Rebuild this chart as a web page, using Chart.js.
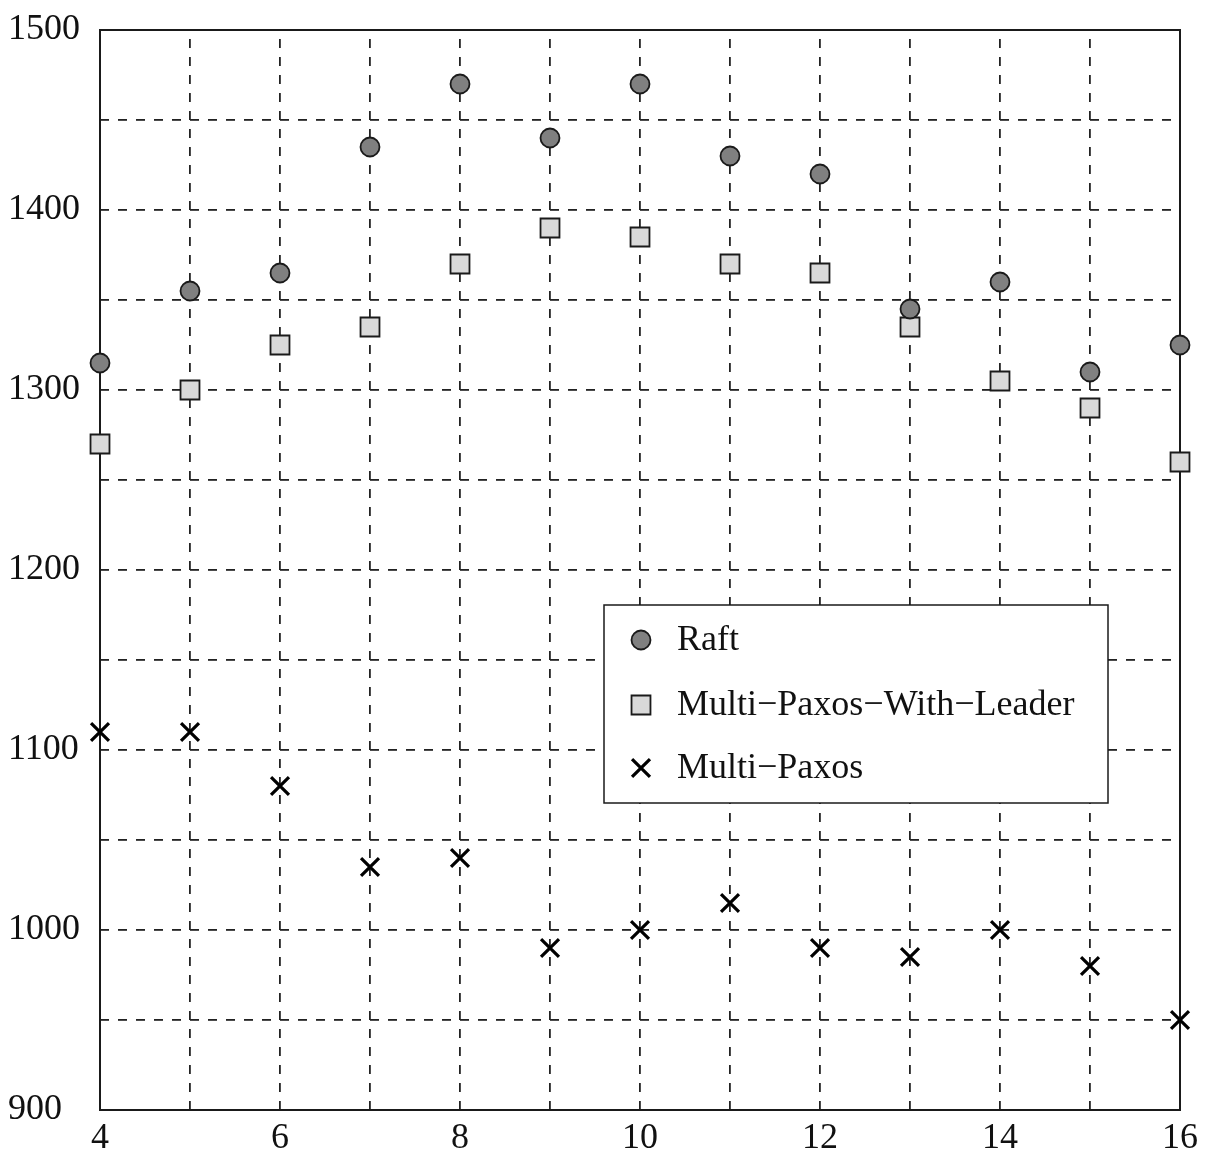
<!DOCTYPE html>
<html>
<head>
<meta charset="utf-8">
<script src="https://cdn.jsdelivr.net/npm/chart.js@4/dist/chart.umd.min.js"></script>
<style>
  html, body { margin: 0; padding: 0; background: #fff; }
  #wrap { width: 1212px; height: 1150px; }
</style>
</head>
<body>
<div id="wrap"><canvas id="container" width="1212" height="1150"></canvas></div>
<script>
const xs = [4, 5, 6, 7, 8, 9, 10, 11, 12, 13, 14, 15, 16];
const raft = [1315, 1355, 1365, 1435, 1470, 1440, 1470, 1430, 1420, 1345, 1360, 1310, 1325];
const paxosLeader = [1270, 1300, 1325, 1335, 1370, 1390, 1385, 1370, 1365, 1335, 1305, 1290, 1260];
const paxos = [1110, 1110, 1080, 1035, 1040, 990, 1000, 1015, 990, 985, 1000, 980, 950];
const seriesNames = ['Raft', 'Multi\u2212Paxos\u2212With\u2212Leader', 'Multi\u2212Paxos'];

const FONT = '"Liberation Serif", "Times New Roman", serif';

function toPoints(values)
{
  return values.map((v, i) => ({ x: xs[i], y: v }));
}

function gridColor(ctx)
{
  const n = ctx.scale.ticks.length;
  return (ctx.index === 0 || ctx.index === n - 1) ? 'rgba(0,0,0,0)' : '#222';
}

// solid frame round the plot area, under the markers
const frame = {
  id: 'frame',
  beforeDatasetsDraw(chart) {
    const { ctx, chartArea: a } = chart;
    ctx.save();
    ctx.strokeStyle = '#1a1a1a';
    ctx.lineWidth = 2;
    ctx.strokeRect(a.left, a.top, a.right - a.left, a.bottom - a.top);
    ctx.restore();
  }
};

// boxed key inside the plot
const keyBox = {
  id: 'keyBox',
  afterDatasetsDraw(chart) {
    const ctx = chart.ctx;
    const left = 604, top = 605, w = 504, h = 198;
    ctx.save();
    ctx.fillStyle = '#fff';
    ctx.fillRect(left, top, w, h);
    ctx.strokeStyle = '#1a1a1a';
    ctx.lineWidth = 1.5;
    ctx.strokeRect(left, top, w, h);
    const rows = [640, 705, 768];
    chart.data.datasets.forEach((ds, i) => {
      const y = rows[i];
      ctx.save();
      ctx.fillStyle = ds.backgroundColor;
      ctx.strokeStyle = ds.borderColor;
      ctx.lineWidth = ds.borderWidth;
      Chart.helpers.drawPoint(ctx, {
        pointStyle: ds.pointStyle, radius: ds.pointRadius, rotation: 0, borderWidth: ds.borderWidth
      }, 641, y);
      ctx.restore();
      ctx.fillStyle = '#111';
      ctx.font = '36px ' + FONT;
      ctx.textAlign = 'left';
      ctx.textBaseline = 'middle';
      ctx.fillText(ds.label, 677, y + 1);
    });
    ctx.restore();
  }
};

new Chart(document.getElementById('container'), {
  type: 'scatter',
  data: {
    datasets: [
      {
        label: seriesNames[0],
        data: toPoints(raft),
        pointStyle: 'circle',
        pointRadius: 9.5,
        backgroundColor: '#808080',
        borderColor: '#1a1a1a',
        borderWidth: 1.8
      },
      {
        label: seriesNames[1],
        data: toPoints(paxosLeader),
        pointStyle: 'rect',
        pointRadius: 13.4,
        backgroundColor: '#d9d9d9',
        borderColor: '#1a1a1a',
        borderWidth: 1.8
      },
      {
        label: seriesNames[2],
        data: toPoints(paxos),
        pointStyle: 'crossRot',
        pointRadius: 12.7,
        backgroundColor: '#000',
        borderColor: '#000',
        borderWidth: 3.2
      }
    ]
  },
  options: {
    responsive: false,
    animation: false,
    clip: false,
    layout: { padding: { left: 8, right: 32, top: 30, bottom: 0 } },
    plugins: {
      legend: { display: false },
      tooltip: { enabled: false }
    },
    elements: { point: { hoverRadius: 9.5 } },
    scales: {
      x: {
        type: 'linear',
        min: 4,
        max: 16,
        afterFit: s => { s.height = 40; },
        ticks: {
          stepSize: 1,
          autoSkip: false,
          maxRotation: 0,
          padding: 7,
          color: '#111',
          font: { family: FONT, size: 36 },
          callback: v => (v % 2 === 0 ? v : '')
        },
        grid: { color: gridColor, lineWidth: 1.8, drawTicks: false },
        border: { display: false, dash: [9, 9], dashOffset: 9 }
      },
      y: {
        min: 900,
        max: 1500,
        afterFit: s => { s.width = 92; },
        ticks: {
          stepSize: 50,
          autoSkip: false,
          crossAlign: 'far',
          color: '#111',
          font: { family: FONT, size: 36 },
          callback: v => (v % 100 === 0 ? v : '')
        },
        grid: { color: gridColor, lineWidth: 1.8, drawTicks: false },
        border: { display: false, dash: [9, 9], dashOffset: 0 }
      }
    }
  },
  plugins: [frame, keyBox]
});
</script>
</body>
</html>
